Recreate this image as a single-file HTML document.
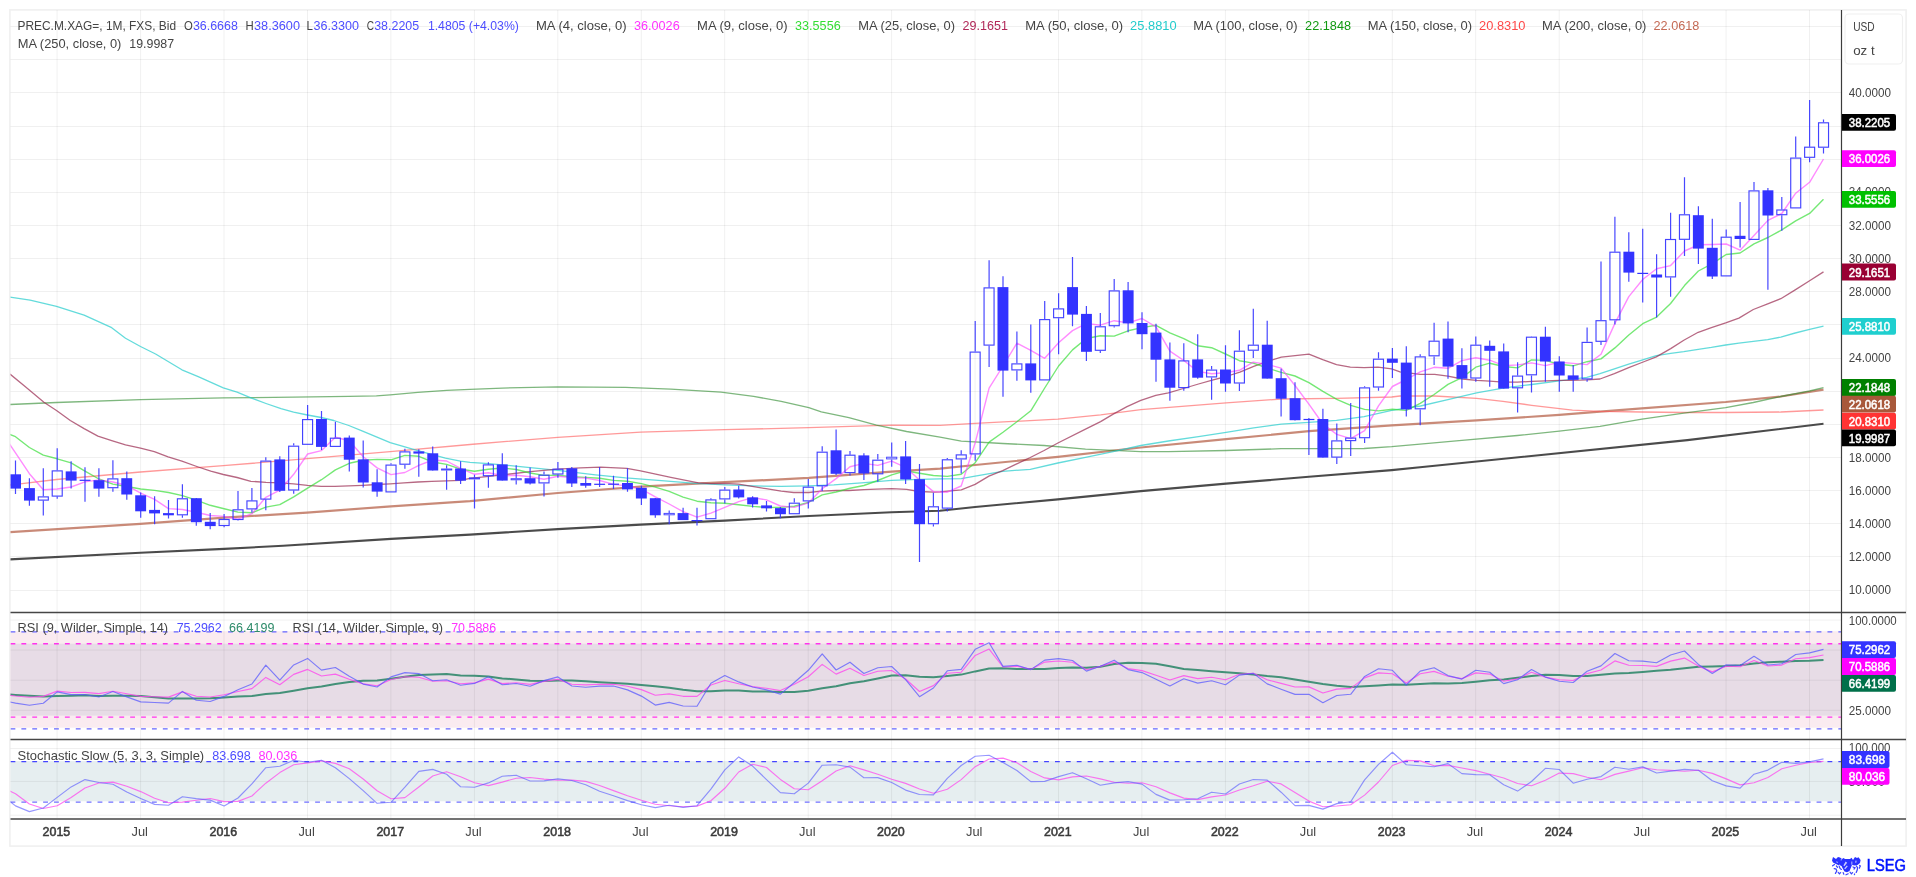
<!DOCTYPE html><html><head><meta charset="utf-8"><title>chart</title><style>html,body{margin:0;padding:0;background:#fff;}body{width:1916px;height:877px;overflow:hidden;}svg{display:block;}text{font-family:"Liberation Sans",sans-serif;}</style></head><body>
<svg width="1916" height="877" viewBox="0 0 1916 877">
<defs><clipPath id="cp"><rect x="10.5" y="10" width="1830.5" height="602"/></clipPath><clipPath id="cr"><rect x="10.5" y="612" width="1830.5" height="128"/></clipPath><clipPath id="cs"><rect x="10.5" y="740" width="1830.5" height="79"/></clipPath></defs>
<rect x="0" y="0" width="1916" height="877" fill="#fff"/>
<rect x="9.9" y="9.9" width="1896.2" height="836.2" fill="none" stroke="#f0f0f0" stroke-width="1.6"/>
<rect x="10.5" y="631.2" width="1830.5" height="96.5" fill="#faebf0"/>
<rect x="10.5" y="643.7" width="1830.5" height="71.9" fill="#e7dce6"/>
<rect x="10.5" y="761.1" width="1830.5" height="40.2" fill="#e6eef0"/>
<path d="M57.1 10V818M140.6 10V818M224.0 10V818M307.5 10V818M390.9 10V818M474.4 10V818M557.8 10V818M641.3 10V818M724.7 10V818M808.2 10V818M891.6 10V818M975.1 10V818M1058.5 10V818M1141.9 10V818M1225.4 10V818M1308.8 10V818M1392.3 10V818M1475.7 10V818M1559.2 10V818M1642.6 10V818M1726.1 10V818M1809.5 10V818M10.5 590.5H1841M10.5 556.5H1841M10.5 523.5H1841M10.5 490.5H1841M10.5 457.5H1841M10.5 424.5H1841M10.5 391.5H1841M10.5 358.5H1841M10.5 324.5H1841M10.5 291.5H1841M10.5 258.5H1841M10.5 225.5H1841M10.5 192.5H1841M10.5 159.5H1841M10.5 126.5H1841M10.5 92.5H1841M10.5 59.5H1841M10.5 26.5H1841M10.5 710.3H1841M10.5 680.2H1841M10.5 650.1H1841M10.5 620.1H1841M10.5 748.5H1841M10.5 781.4H1841M10.5 815.2H1841" stroke="#000" stroke-opacity="0.06" stroke-width="1" fill="none"/>
<g clip-path="url(#cp)">
<polyline points="10.0,559.4 140.4,552.7 224.3,548.9 283.2,545.7 391.0,538.9 470.0,534.6 557.8,529.1 640.6,524.6 724.7,520.6 808.8,516.0 891.6,512.3 940.0,510.7 975.1,507.0 1057.9,499.4 1140.8,491.1 1226.1,483.6 1308.9,476.8 1391.7,470.1 1420.0,467.3 1687.4,440.1 1823.5,423.8" fill="none" stroke="#3c3c3c" stroke-width="2.1" stroke-linejoin="round" stroke-opacity="0.92"/>
<polyline points="10.0,532.1 140.4,523.9 224.3,517.6 307.0,512.6 391.0,506.3 470.0,501.2 557.8,493.0 640.6,486.7 724.7,482.2 808.8,477.9 891.6,471.6 940.0,468.6 975.1,465.0 1057.9,456.8 1140.8,447.5 1226.1,439.2 1308.9,431.2 1391.7,425.4 1476.6,420.4 1559.3,414.9 1600.0,411.6 1641.9,408.4 1725.7,402.0 1780.8,396.5 1823.5,389.6" fill="none" stroke="#c07560" stroke-width="2.2" stroke-linejoin="round" stroke-opacity="0.85"/>
<polyline points="10.0,485.0 20.0,483.8 56.5,479.5 140.5,472.0 223.3,465.7 307.4,458.7 390.2,451.6 470.0,444.5 557.8,437.3 640.6,432.2 724.7,429.7 808.8,427.7 891.6,425.2 940.0,425.4 975.1,423.4 1057.9,419.1 1100.6,414.9 1140.8,409.6 1226.1,402.8 1281.3,399.0 1336.5,398.3 1391.7,397.0 1400.0,396.0 1434.7,396.0 1476.6,398.4 1503.0,401.3 1531.7,405.3 1572.5,410.1 1600.0,411.3 1641.9,412.0 1683.8,412.5 1725.7,412.5 1780.8,412.0 1823.5,410.0" fill="none" stroke="#ff5555" stroke-width="1.3" stroke-linejoin="round" stroke-opacity="0.6"/>
<polyline points="10.0,404.5 56.5,402.5 140.5,399.7 223.3,397.9 293.6,397.2 348.8,396.4 376.4,395.9 390.2,394.9 417.8,392.4 446.7,390.4 470.0,389.3 502.6,388.1 557.8,386.8 625.6,387.3 670.8,389.1 721.0,392.1 753.6,396.3 781.2,401.4 808.8,407.6 821.3,411.9 848.9,417.7 876.5,425.2 906.6,431.5 940.0,437.2 961.3,441.2 1002.7,443.5 1044.1,445.5 1085.5,449.2 1140.8,451.7 1168.4,451.7 1226.1,450.5 1281.3,448.7 1336.5,448.7 1364.1,448.5 1391.7,446.7 1420.0,444.2 1464.7,440.1 1517.4,435.5 1559.3,431.2 1600.0,426.4 1641.9,419.2 1683.8,413.2 1725.7,407.7 1753.3,402.5 1780.8,396.5 1809.6,391.0 1823.5,387.6" fill="none" stroke="#2e8b2e" stroke-width="1.3" stroke-linejoin="round" stroke-opacity="0.62"/>
<polyline points="10.0,297.1 30.1,300.1 56.5,306.3 84.1,315.1 111.7,327.7 125.5,338.2 140.5,346.5 155.6,354.0 181.9,369.8 198.2,376.6 223.3,387.9 237.1,392.2 250.9,397.9 266.0,403.5 281.0,408.7 293.6,412.2 307.4,415.0 321.2,417.5 333.8,420.5 348.8,425.5 362.6,431.1 376.4,436.8 390.2,442.6 404.0,446.6 417.8,450.6 431.6,454.4 445.4,458.2 460.5,461.2 470.0,462.3 488.8,463.6 515.2,466.1 557.8,470.4 595.5,474.9 625.6,477.9 658.2,480.4 695.8,483.4 724.7,484.9 753.6,485.9 781.2,486.4 808.8,485.9 833.9,484.9 861.5,482.9 891.6,480.4 919.2,479.4 940.0,478.8 961.3,478.6 975.1,476.1 1002.7,471.3 1030.3,469.3 1057.9,463.0 1085.5,457.3 1113.2,451.7 1140.8,445.5 1168.4,441.0 1198.5,436.7 1226.1,432.4 1253.7,427.9 1281.3,424.1 1308.9,422.4 1336.5,420.4 1364.1,416.6 1391.7,410.3 1420.4,406.0 1447.9,399.6 1476.6,392.9 1503.0,388.1 1531.7,384.5 1559.3,380.9 1586.8,377.3 1600.0,373.7 1614.4,368.9 1628.7,364.1 1641.9,360.1 1656.3,355.7 1670.7,353.4 1683.8,351.7 1698.2,349.3 1711.4,347.4 1725.7,345.0 1738.9,343.1 1753.3,341.4 1767.7,339.7 1780.8,337.1 1795.2,333.0 1809.6,329.4 1823.5,326.2" fill="none" stroke="#22cccc" stroke-width="1.3" stroke-linejoin="round" stroke-opacity="0.7"/>
<polyline points="10.0,374.1 25.1,386.6 43.9,402.2 56.5,410.5 70.3,420.5 84.1,428.6 97.9,436.1 111.7,440.6 125.5,444.9 140.5,448.1 154.3,451.6 168.1,456.9 181.9,461.2 198.2,467.0 210.8,471.2 223.3,474.5 237.1,477.5 250.9,481.3 266.0,482.3 279.8,482.8 293.6,483.8 307.4,485.3 321.2,486.3 335.0,486.3 348.8,485.8 362.6,485.3 376.4,484.5 390.2,483.8 404.0,482.8 417.8,482.0 431.6,481.3 446.7,480.8 460.5,480.3 470.0,478.4 502.6,474.9 530.2,471.6 557.8,469.1 580.4,467.9 600.5,467.1 626.8,468.4 640.6,470.9 655.7,474.1 670.8,477.4 685.8,480.4 698.4,482.9 710.9,483.7 724.7,483.4 738.5,484.2 753.6,486.7 766.1,488.7 781.2,491.2 793.7,492.5 808.8,492.5 821.3,491.2 836.4,490.5 848.9,490.5 864.0,489.7 876.5,489.2 891.6,488.7 906.6,489.4 919.2,491.5 934.2,492.2 940.0,491.9 961.3,489.9 975.1,484.4 988.9,476.1 1002.7,470.6 1030.3,457.5 1044.1,450.5 1057.9,443.0 1085.5,429.2 1100.6,421.6 1113.2,414.1 1127.0,406.6 1140.8,400.3 1155.8,395.3 1168.4,392.8 1183.4,388.5 1198.5,384.0 1212.3,380.2 1226.1,376.5 1239.9,372.2 1253.7,366.4 1267.5,361.4 1281.3,357.1 1295.1,355.6 1308.9,354.1 1322.7,359.6 1336.5,364.7 1350.3,367.2 1364.1,367.7 1377.9,367.2 1391.7,368.9 1400.0,371.8 1420.4,374.4 1434.7,374.4 1447.9,376.1 1462.3,379.0 1476.6,380.4 1489.8,381.1 1503.0,382.1 1517.4,382.1 1531.7,381.4 1546.1,380.9 1559.3,380.4 1572.5,380.4 1586.8,379.9 1600.0,379.0 1614.4,373.7 1628.7,367.7 1641.9,362.5 1656.3,356.9 1670.7,348.6 1683.8,340.2 1698.2,332.3 1711.4,327.7 1725.7,322.9 1738.9,318.1 1753.3,309.5 1767.7,303.8 1780.8,298.7 1795.2,289.9 1809.6,280.8 1823.5,271.9" fill="none" stroke="#99284f" stroke-width="1.3" stroke-linejoin="round" stroke-opacity="0.7"/>
<polyline points="1.6,431.0 15.5,436.7 29.4,447.5 43.3,455.1 57.2,458.8 71.1,462.9 85.0,471.1 98.9,479.0 112.9,484.1 126.8,486.5 140.7,489.0 154.6,490.4 168.5,492.5 182.4,495.6 196.3,500.2 210.2,505.3 224.1,508.7 238.0,512.1 251.9,512.8 265.8,507.1 279.8,504.6 293.7,496.9 307.6,488.1 321.5,479.7 335.4,469.9 349.3,463.3 363.2,460.3 377.1,459.4 391.0,459.8 404.9,455.4 418.8,456.3 432.7,462.0 446.6,464.4 460.6,469.2 474.5,471.2 488.4,469.2 502.3,468.0 516.2,469.5 530.1,473.0 544.0,475.4 557.9,475.2 571.8,476.8 585.7,477.4 599.6,478.2 613.5,480.4 627.5,481.3 641.4,483.6 655.3,487.1 669.2,491.4 683.1,497.1 697.0,501.2 710.9,502.7 724.8,503.3 738.7,504.8 752.6,506.4 766.5,507.5 780.4,507.4 794.3,506.3 808.3,502.5 822.2,494.9 836.1,492.0 850.0,488.2 863.9,485.5 877.8,480.5 891.7,474.8 905.6,470.9 919.5,473.3 933.4,475.5 947.3,476.4 961.2,474.2 975.2,462.7 989.1,442.1 1003.0,432.2 1016.9,421.8 1030.8,410.8 1044.7,388.0 1058.6,366.0 1072.5,349.9 1086.4,338.5 1100.3,335.7 1114.2,336.1 1128.1,330.8 1142.0,327.6 1156.0,325.3 1169.9,332.9 1183.8,338.7 1197.7,345.7 1211.6,347.7 1225.5,354.0 1239.4,360.7 1253.3,363.1 1267.2,368.0 1281.1,372.4 1295.0,376.0 1308.9,382.6 1322.9,391.4 1336.8,399.3 1350.7,405.3 1364.6,409.4 1378.5,410.9 1392.4,409.2 1406.3,410.4 1420.2,403.3 1434.1,394.5 1448.0,384.4 1461.9,377.6 1475.8,367.2 1489.7,363.2 1503.7,366.5 1517.6,367.9 1531.5,359.9 1545.4,360.4 1559.3,364.3 1573.2,365.8 1587.1,361.7 1601.0,358.9 1614.9,347.9 1628.8,335.0 1642.7,323.7 1656.6,317.1 1670.6,303.5 1684.5,285.6 1698.4,271.0 1712.3,263.7 1726.2,254.5 1740.1,253.0 1754.0,243.9 1767.9,237.5 1781.8,229.9 1795.7,220.9 1809.6,213.4 1823.5,199.3" fill="none" stroke="#33dd33" stroke-width="1.4" stroke-linejoin="round" stroke-opacity="0.68"/>
<polyline points="1.6,432.5 15.5,452.8 29.4,473.7 43.3,489.8 57.2,489.0 71.1,487.0 85.0,481.9 98.9,479.9 112.9,482.0 126.8,485.5 140.7,493.2 154.6,499.4 168.5,508.6 182.4,509.5 196.3,512.3 210.2,515.5 224.1,516.4 238.0,519.1 251.9,513.7 265.8,497.3 279.8,490.2 293.7,474.3 307.6,454.0 321.5,450.6 335.4,437.3 349.3,440.8 363.2,456.7 377.1,467.9 391.0,474.6 404.9,472.5 418.8,465.3 432.7,460.0 446.6,461.0 460.6,468.3 474.5,474.3 488.4,472.8 502.3,475.8 516.2,475.2 530.1,476.7 544.0,479.2 557.9,476.2 571.8,477.6 585.7,478.1 599.6,480.5 613.5,484.4 627.5,485.9 641.4,489.1 655.3,496.9 669.2,504.0 683.1,511.7 697.0,517.2 710.9,513.2 724.8,507.4 738.7,501.7 752.6,497.6 766.5,499.9 780.4,506.0 794.3,507.4 808.3,502.9 822.2,488.8 836.1,478.6 850.0,466.7 863.9,463.4 877.8,465.4 891.7,461.1 905.6,467.3 919.5,480.0 933.4,491.6 947.3,492.2 961.2,486.0 975.2,442.8 989.1,388.1 1003.0,366.0 1016.9,343.2 1030.8,350.4 1044.7,358.3 1058.6,342.8 1072.5,330.6 1086.4,323.4 1100.3,325.2 1114.2,320.7 1128.1,322.9 1142.0,318.5 1156.0,326.9 1169.9,351.2 1183.8,360.5 1197.7,371.4 1211.6,373.8 1225.5,372.8 1239.4,370.3 1253.3,362.1 1267.2,364.4 1281.1,368.1 1295.0,385.5 1308.9,404.2 1322.9,424.0 1336.8,434.4 1350.7,438.7 1364.6,430.7 1378.5,405.9 1392.4,386.5 1406.3,379.5 1420.2,371.8 1434.1,367.3 1448.0,368.3 1461.9,360.6 1475.8,357.7 1489.7,360.2 1503.7,365.7 1517.6,364.9 1531.5,362.9 1545.4,365.6 1559.3,362.3 1573.2,363.4 1587.1,364.6 1601.0,354.3 1614.9,323.4 1628.8,296.6 1642.7,279.5 1656.6,268.8 1670.6,265.6 1684.5,251.0 1698.4,244.8 1712.3,244.5 1726.2,244.0 1740.1,250.2 1754.0,235.6 1767.9,220.4 1781.8,213.5 1795.7,193.2 1809.6,182.3 1823.5,159.0" fill="none" stroke="#ff44ff" stroke-width="1.4" stroke-linejoin="round" stroke-opacity="0.62"/>
<path d="M15.5 460.4V493.9M29.4 478.2V505.7M43.3 468.2V496.3M43.3 500.6V515.4M57.2 448.2V470.3M57.2 496.6V498.7M71.1 461.2V488.6M85.0 467.2V501.7M98.9 468.2V496.8M112.9 460.2V478.4M112.9 488.3V491.8M126.8 471.4V499.8M140.7 492.6V517.7M154.6 496.3V524.2M168.5 500.1V518.6M182.4 484.2V498.2M182.4 515.3V517.7M196.3 497.9V525.7M210.2 512.9V529.3M224.1 513.9V519.0M224.1 526.1V527.3M238.0 491.1V509.2M238.0 520.0V520.5M251.9 488.1V500.4M251.9 509.5V512.4M265.8 457.3V460.5M265.8 499.6V510.3M279.8 456.2V491.9M293.7 443.2V445.6M293.7 490.5V493.7M307.6 404.9V419.0M321.5 411.0V450.1M335.4 421.7V437.6M349.3 435.4V471.6M363.2 440.5V487.6M377.1 469.3V496.7M391.0 463.2V464.5M404.9 448.8V451.4M404.9 464.8V468.8M418.8 449.3V476.8M432.7 446.4V470.5M446.6 465.3V468.5M446.6 470.5V489.7M460.6 461.3V483.9M474.5 474.7V477.4M474.5 479.4V508.6M488.4 462.3V464.4M488.4 476.3V487.8M502.3 453.2V480.6M516.2 465.2V478.2M516.2 480.3V484.6M530.1 467.4V484.6M544.0 471.4V474.6M544.0 483.4V496.6M557.9 462.0V468.7M557.9 474.6V477.8M571.8 467.1V487.0M585.7 476.3V487.8M599.6 467.1V487.0M613.5 475.8V488.9M627.5 468.2V491.8M641.4 485.7V504.9M655.3 497.9V517.7M669.2 510.5V512.9M669.2 515.3V524.2M683.1 507.8V520.1M697.0 507.8V525.4M710.9 498.2V499.4M724.8 487.1V489.5M724.8 499.4V503.4M738.7 485.8V498.6M752.6 496.2V507.5M766.5 501.0V511.5M780.4 507.0V518.2M794.3 498.2V502.6M808.3 479.1V486.6M808.3 501.4V508.6M822.2 446.3V451.6M822.2 486.3V491.1M836.1 429.6V475.1M850.0 451.1V454.7M850.0 473.2V475.6M863.9 453.2V479.9M877.8 454.0V459.6M877.8 474.3V481.8M891.7 442.4V456.7M891.7 459.4V466.8M905.6 441.1V483.9M919.5 464.0V562.1M933.4 492.8V506.2M933.4 524.2V526.6M947.3 457.9V459.2M947.3 508.6V511.4M961.2 450.3V454.4M961.2 459.5V473.4M975.2 321.0V351.5M975.2 454.4V460.8M989.1 260.3V287.4M989.1 345.7V366.9M1003.0 276.2V396.7M1016.9 331.5V363.3M1016.9 370.4V380.7M1030.8 324.6V392.7M1044.7 301.0V319.0M1058.6 293.2V308.3M1058.6 318.2V354.2M1072.5 257.1V326.2M1086.4 305.9V360.9M1100.3 313.0V326.2M1100.3 350.8V352.9M1114.2 279.1V290.3M1114.2 326.2V327.5M1128.1 282.0V332.3M1142.0 312.2V349.3M1156.0 323.8V381.8M1169.9 342.6V400.7M1183.8 343.3V360.4M1183.8 388.2V390.8M1197.7 334.3V378.8M1211.6 366.0V369.5M1211.6 377.4V399.8M1225.5 345.2V391.8M1239.4 330.3V350.6M1239.4 383.5V391.0M1253.3 308.8V344.7M1253.3 350.8V358.0M1267.2 320.8V378.6M1281.1 368.7V416.6M1295.0 382.2V420.4M1308.9 418.0V455.1M1322.9 408.8V457.6M1336.8 423.6V440.3M1336.8 457.6V463.9M1350.7 403.0V437.5M1350.7 441.1V455.9M1364.6 386.2V387.3M1364.6 438.2V443.1M1378.5 352.2V358.6M1378.5 387.5V390.7M1392.4 347.9V377.9M1406.3 346.3V416.6M1420.2 354.3V356.4M1420.2 409.4V425.3M1434.1 322.8V340.7M1434.1 356.4V365.0M1448.0 321.6V378.7M1461.9 348.2V388.6M1475.8 336.4V344.7M1475.8 378.6V381.8M1489.7 340.4V386.7M1503.7 343.4V388.6M1517.6 362.3V375.5M1517.6 388.3V412.6M1531.5 336.4V336.7M1531.5 375.4V392.6M1545.4 326.7V381.8M1559.3 356.2V391.8M1573.2 365.0V391.8M1587.1 327.6V341.8M1587.1 379.4V381.8M1601.0 261.4V320.1M1601.0 341.8V345.1M1614.9 216.8V251.7M1614.9 320.4V324.4M1628.8 232.3V281.7M1642.7 228.8V302.6M1656.6 254.3V317.5M1670.6 212.8V238.9M1670.6 277.4V296.7M1684.5 177.2V214.2M1684.5 239.8V255.9M1698.4 206.2V263.9M1712.3 218.7V279.1M1726.2 229.6V236.7M1740.1 201.9V247.4M1754.0 182.0V190.3M1767.9 188.0V289.8M1781.8 197.1V209.4M1781.8 215.2V230.7M1795.7 136.6V157.5M1809.6 99.9V146.7M1809.6 157.9V162.3M1823.5 119.5V122.3M1823.5 147.8V153.4" stroke="#3333ff" stroke-width="1.2" stroke-opacity="0.9" fill="none"/>
<g fill="#3333ff"><rect x="10.1" y="474.3" width="10.9" height="14.3"/><rect x="24.0" y="488.1" width="10.9" height="12.5"/><rect x="65.7" y="471.4" width="10.9" height="9.2"/><rect x="79.6" y="479.7" width="10.9" height="1.2"/><rect x="93.5" y="480.2" width="10.9" height="8.4"/><rect x="121.3" y="478.2" width="10.9" height="16.3"/><rect x="135.2" y="495.3" width="10.9" height="16.0"/><rect x="149.1" y="509.9" width="10.9" height="3.5"/><rect x="163.0" y="513.1" width="10.9" height="2.2"/><rect x="190.9" y="498.2" width="10.9" height="24.0"/><rect x="204.8" y="521.8" width="10.9" height="4.3"/><rect x="274.3" y="459.4" width="10.9" height="31.4"/><rect x="316.0" y="419.0" width="10.9" height="27.9"/><rect x="343.8" y="437.6" width="10.9" height="22.1"/><rect x="357.8" y="459.4" width="10.9" height="23.1"/><rect x="371.7" y="482.3" width="10.9" height="9.3"/><rect x="413.4" y="451.4" width="10.9" height="2.2"/><rect x="427.3" y="453.3" width="10.9" height="17.2"/><rect x="455.1" y="468.5" width="10.9" height="12.2"/><rect x="496.8" y="464.4" width="10.9" height="16.2"/><rect x="524.6" y="478.2" width="10.9" height="5.3"/><rect x="566.4" y="468.3" width="10.9" height="15.2"/><rect x="580.3" y="483.0" width="10.9" height="2.7"/><rect x="594.2" y="483.7" width="10.9" height="1.2"/><rect x="608.1" y="483.6" width="10.9" height="1.2"/><rect x="622.0" y="483.0" width="10.9" height="6.4"/><rect x="635.9" y="487.8" width="10.9" height="10.7"/><rect x="649.8" y="498.2" width="10.9" height="17.1"/><rect x="677.6" y="513.1" width="10.9" height="7.0"/><rect x="691.5" y="520.0" width="10.9" height="1.2"/><rect x="733.3" y="489.5" width="10.9" height="7.9"/><rect x="747.2" y="497.4" width="10.9" height="6.9"/><rect x="761.1" y="505.4" width="10.9" height="2.9"/><rect x="775.0" y="508.1" width="10.9" height="6.1"/><rect x="830.6" y="450.3" width="10.9" height="23.5"/><rect x="858.4" y="455.4" width="10.9" height="18.1"/><rect x="900.2" y="456.4" width="10.9" height="23.0"/><rect x="914.1" y="479.2" width="10.9" height="45.0"/><rect x="997.5" y="287.1" width="10.9" height="83.5"/><rect x="1025.3" y="363.4" width="10.9" height="17.0"/><rect x="1067.1" y="287.1" width="10.9" height="27.5"/><rect x="1081.0" y="313.9" width="10.9" height="37.9"/><rect x="1122.7" y="290.3" width="10.9" height="33.1"/><rect x="1136.6" y="323.0" width="10.9" height="11.2"/><rect x="1150.5" y="332.6" width="10.9" height="27.1"/><rect x="1164.4" y="359.4" width="10.9" height="28.3"/><rect x="1192.2" y="359.4" width="10.9" height="18.3"/><rect x="1220.0" y="369.5" width="10.9" height="14.0"/><rect x="1261.8" y="344.7" width="10.9" height="33.9"/><rect x="1275.7" y="378.2" width="10.9" height="20.5"/><rect x="1289.6" y="398.2" width="10.9" height="22.0"/><rect x="1303.5" y="418.9" width="10.9" height="1.2"/><rect x="1317.4" y="419.0" width="10.9" height="38.6"/><rect x="1386.9" y="358.6" width="10.9" height="4.2"/><rect x="1400.8" y="362.6" width="10.9" height="46.8"/><rect x="1442.6" y="338.6" width="10.9" height="28.0"/><rect x="1456.5" y="365.1" width="10.9" height="13.6"/><rect x="1484.3" y="345.8" width="10.9" height="5.0"/><rect x="1498.2" y="351.4" width="10.9" height="37.2"/><rect x="1539.9" y="336.7" width="10.9" height="24.8"/><rect x="1553.8" y="361.5" width="10.9" height="14.0"/><rect x="1567.7" y="375.4" width="10.9" height="4.4"/><rect x="1623.4" y="251.7" width="10.9" height="20.9"/><rect x="1637.3" y="272.8" width="10.9" height="1.2"/><rect x="1651.2" y="274.5" width="10.9" height="3.0"/><rect x="1692.9" y="215.2" width="10.9" height="33.4"/><rect x="1706.8" y="247.8" width="10.9" height="28.7"/><rect x="1734.6" y="235.8" width="10.9" height="3.2"/><rect x="1762.5" y="190.3" width="10.9" height="25.2"/></g>
<g fill="none" stroke="#3333ff" stroke-width="1.15" stroke-opacity="0.92"><rect x="38.32" y="496.9" width="10" height="3.2"/><rect x="52.22" y="470.9" width="10" height="25.2"/><rect x="107.86" y="478.9" width="10" height="8.8"/><rect x="177.40" y="498.8" width="10" height="16.0"/><rect x="219.12" y="519.5" width="10" height="6.0"/><rect x="233.03" y="509.8" width="10" height="9.7"/><rect x="246.94" y="500.9" width="10" height="8.0"/><rect x="260.84" y="461.1" width="10" height="38.0"/><rect x="288.66" y="446.2" width="10" height="43.8"/><rect x="302.57" y="419.6" width="10" height="24.7"/><rect x="330.38" y="438.2" width="10" height="8.2"/><rect x="386.02" y="465.1" width="10" height="26.8"/><rect x="399.92" y="451.9" width="10" height="12.3"/><rect x="441.55" y="469.0" width="10.2" height="1.0" stroke-width="0.95"/><rect x="469.36" y="477.9" width="10.2" height="1.0" stroke-width="0.95"/><rect x="483.37" y="464.9" width="10" height="10.8"/><rect x="511.09" y="478.7" width="10.2" height="1.1" stroke-width="0.95"/><rect x="539.00" y="475.2" width="10" height="7.7"/><rect x="552.91" y="469.2" width="10" height="4.8"/><rect x="664.08" y="513.4" width="10.2" height="1.4" stroke-width="0.95"/><rect x="705.90" y="499.9" width="10" height="18.8"/><rect x="719.81" y="490.1" width="10" height="8.8"/><rect x="789.35" y="503.2" width="10" height="10.5"/><rect x="803.26" y="487.2" width="10" height="13.7"/><rect x="817.16" y="452.2" width="10" height="33.6"/><rect x="844.98" y="455.2" width="10" height="17.4"/><rect x="872.80" y="460.2" width="10" height="13.6"/><rect x="886.60" y="457.2" width="10.2" height="1.7" stroke-width="0.95"/><rect x="928.43" y="506.8" width="10" height="16.9"/><rect x="942.34" y="459.8" width="10" height="48.3"/><rect x="956.24" y="454.9" width="10" height="4.0"/><rect x="970.15" y="352.1" width="10" height="101.8"/><rect x="984.06" y="287.9" width="10" height="57.2"/><rect x="1011.88" y="363.9" width="10" height="6.0"/><rect x="1039.69" y="319.6" width="10" height="60.3"/><rect x="1053.60" y="308.9" width="10" height="8.8"/><rect x="1095.32" y="326.8" width="10" height="23.5"/><rect x="1109.23" y="290.9" width="10" height="34.8"/><rect x="1178.77" y="360.9" width="10" height="26.7"/><rect x="1206.59" y="370.1" width="10" height="6.8"/><rect x="1234.40" y="351.2" width="10" height="31.8"/><rect x="1248.31" y="345.2" width="10" height="5.0"/><rect x="1331.76" y="440.9" width="10" height="16.2"/><rect x="1345.67" y="438.1" width="10" height="2.5"/><rect x="1359.58" y="387.9" width="10" height="49.8"/><rect x="1373.48" y="359.2" width="10" height="27.8"/><rect x="1415.21" y="356.9" width="10" height="51.9"/><rect x="1429.12" y="341.2" width="10" height="14.6"/><rect x="1470.84" y="345.2" width="10" height="32.8"/><rect x="1512.56" y="376.1" width="10" height="11.7"/><rect x="1526.47" y="337.2" width="10" height="37.6"/><rect x="1582.10" y="342.4" width="10" height="36.5"/><rect x="1596.01" y="320.7" width="10" height="20.6"/><rect x="1609.92" y="252.2" width="10" height="67.6"/><rect x="1665.55" y="239.5" width="10" height="37.4"/><rect x="1679.46" y="214.8" width="10" height="24.5"/><rect x="1721.18" y="237.2" width="10" height="38.7"/><rect x="1749.00" y="190.9" width="10" height="48.5"/><rect x="1776.82" y="210.0" width="10" height="4.7"/><rect x="1790.72" y="158.1" width="10" height="49.8"/><rect x="1804.63" y="147.2" width="10" height="10.1"/><rect x="1818.54" y="122.8" width="10" height="24.4"/></g>
</g>
<g clip-path="url(#cr)">
<path d="M10.5 631.8H1841" stroke="#6666ff" stroke-width="1.35" stroke-dasharray="4.84 6.04" fill="none"/>
<path d="M10.5 643.7H1841" stroke="#ff33ee" stroke-width="1.35" stroke-dasharray="4.84 6.04" fill="none"/>
<path d="M10.5 717.1H1841" stroke="#ff33ee" stroke-width="1.35" stroke-dasharray="4.84 6.04" fill="none"/>
<path d="M10.5 728.8H1841" stroke="#6666ff" stroke-width="1.35" stroke-dasharray="4.84 6.04" fill="none"/>
<polyline points="1.6,693.9 15.5,694.9 29.4,695.7 43.3,696.4 57.2,696.0 71.1,695.7 85.0,695.3 98.9,695.9 112.9,695.7 126.8,695.7 140.7,696.0 154.6,697.3 168.5,698.4 182.4,698.4 196.3,698.4 210.2,698.3 224.1,697.6 238.0,696.6 251.9,696.1 265.8,694.0 279.8,693.0 293.7,690.7 307.6,688.3 321.5,686.4 335.4,683.9 349.3,682.1 363.2,680.7 377.1,680.4 391.0,678.7 404.9,676.7 418.8,675.0 432.7,674.4 446.6,674.1 460.6,675.5 474.5,675.8 488.4,676.6 502.3,678.5 516.2,679.4 530.1,680.8 544.0,681.1 557.9,680.6 571.8,680.5 585.7,681.2 599.6,682.2 613.5,683.1 627.5,683.8 641.4,684.9 655.3,686.3 669.2,687.7 683.1,689.8 697.0,691.3 710.9,691.3 724.8,690.6 738.7,690.6 752.6,691.4 766.5,691.6 780.4,692.1 794.3,691.9 808.3,690.7 822.2,688.2 836.1,686.3 850.0,683.2 863.9,681.2 877.8,678.4 891.7,675.6 905.6,675.3 919.5,676.8 933.4,677.3 947.3,676.1 961.2,674.6 975.2,671.4 989.1,668.6 1003.0,668.3 1016.9,669.1 1030.8,669.1 1044.7,669.0 1058.6,667.9 1072.5,667.4 1086.4,667.7 1100.3,666.8 1114.2,664.1 1128.1,662.8 1142.0,663.0 1156.0,663.7 1169.9,666.3 1183.8,668.9 1197.7,670.1 1211.6,671.2 1225.5,672.2 1239.4,673.3 1253.3,674.4 1267.2,676.1 1281.1,677.3 1295.0,679.4 1308.9,681.8 1322.9,684.1 1336.8,685.8 1350.7,686.9 1364.6,686.2 1378.5,685.5 1392.4,684.5 1406.3,684.8 1420.2,683.9 1434.1,683.3 1448.0,683.5 1461.9,683.1 1475.8,681.8 1489.7,680.2 1503.7,679.5 1517.6,677.8 1531.5,676.0 1545.4,674.7 1559.3,675.1 1573.2,676.1 1587.1,676.1 1601.0,674.8 1614.9,673.5 1628.8,673.0 1642.7,672.0 1656.6,670.8 1670.6,669.7 1684.5,668.2 1698.4,666.8 1712.3,666.4 1726.2,666.1 1740.1,665.2 1754.0,663.4 1767.9,662.2 1781.8,661.7 1795.7,660.9 1809.6,660.8 1823.5,660.0" fill="none" stroke="#3a8c72" stroke-width="2.0" stroke-linejoin="round" stroke-opacity="0.95"/>
<polyline points="1.6,694.3 15.5,696.0 29.4,697.3 43.3,696.4 57.2,691.1 71.1,692.5 85.0,692.4 98.9,693.6 112.9,691.2 126.8,693.8 140.7,696.4 154.6,696.8 168.5,697.1 182.4,691.9 196.3,696.3 210.2,697.0 224.1,694.7 238.0,691.5 251.9,688.6 265.8,677.4 279.8,684.7 293.7,674.4 307.6,669.4 321.5,676.0 335.4,674.1 349.3,679.2 363.2,683.9 377.1,685.8 391.0,679.5 404.9,676.7 418.8,677.2 432.7,681.3 446.6,680.8 460.6,683.8 474.5,682.9 488.4,679.1 502.3,683.6 516.2,682.8 530.1,684.4 544.0,681.4 557.9,679.4 571.8,684.2 585.7,684.9 599.6,684.3 613.5,684.3 627.5,686.3 641.4,689.6 655.3,695.2 669.2,693.9 683.1,696.3 697.0,696.4 710.9,685.0 724.8,680.5 738.7,683.8 752.6,686.6 766.5,688.3 780.4,690.6 794.3,684.3 808.3,676.7 822.2,664.4 836.1,674.1 850.0,668.3 863.9,675.5 877.8,671.3 891.7,670.5 905.6,679.0 919.5,691.5 933.4,685.6 947.3,673.3 961.2,672.2 975.2,655.4 989.1,649.1 1003.0,667.0 1016.9,666.1 1030.8,669.4 1044.7,662.1 1058.6,661.0 1072.5,662.3 1086.4,669.7 1100.3,666.4 1114.2,662.1 1128.1,668.6 1142.0,670.6 1156.0,675.2 1169.9,680.0 1183.8,675.6 1197.7,678.6 1211.6,677.3 1225.5,679.8 1239.4,674.2 1253.3,673.2 1267.2,679.8 1281.1,683.4 1295.0,687.0 1308.9,686.9 1322.9,693.0 1336.8,689.1 1350.7,688.4 1364.6,677.9 1378.5,672.9 1392.4,673.8 1406.3,682.9 1420.2,673.8 1434.1,671.4 1448.0,676.3 1461.9,678.6 1475.8,672.9 1489.7,674.1 1503.7,681.3 1517.6,678.9 1531.5,672.3 1545.4,677.1 1559.3,679.7 1573.2,680.5 1587.1,673.6 1601.0,670.0 1614.9,660.9 1628.8,665.3 1642.7,665.5 1656.6,666.4 1670.6,661.1 1684.5,658.1 1698.4,666.1 1712.3,671.9 1726.2,666.3 1740.1,666.8 1754.0,660.5 1767.9,666.0 1781.8,665.1 1795.7,658.8 1809.6,657.6 1823.5,655.0" fill="none" stroke="#ff44ee" stroke-width="1.15" stroke-linejoin="round" stroke-opacity="0.78"/>
<polyline points="1.6,700.3 15.5,703.1 29.4,705.3 43.3,703.3 57.2,691.9 71.1,694.6 85.0,694.5 98.9,697.0 112.9,691.5 126.8,696.9 140.7,701.9 154.6,702.5 168.5,703.1 182.4,691.4 196.3,700.2 210.2,701.5 224.1,696.4 238.0,689.7 251.9,684.0 265.8,665.2 279.8,680.1 293.7,664.9 307.6,658.4 321.5,670.1 335.4,667.5 349.3,676.3 363.2,684.1 377.1,687.0 391.0,676.9 404.9,672.6 418.8,673.6 432.7,680.7 446.6,679.8 460.6,685.2 474.5,683.4 488.4,676.8 502.3,684.8 516.2,683.5 530.1,686.2 544.0,680.6 557.9,676.9 571.8,686.0 585.7,687.3 599.6,686.1 613.5,686.0 627.5,689.9 641.4,696.1 655.3,705.1 669.2,702.4 683.1,706.0 697.0,706.3 710.9,683.3 724.8,675.5 738.7,681.9 752.6,687.0 766.5,689.9 780.4,694.1 794.3,682.5 808.3,670.3 822.2,653.9 836.1,670.0 850.0,662.2 863.9,673.5 877.8,667.7 891.7,666.5 905.6,679.6 919.5,696.7 933.4,688.0 947.3,670.8 961.2,669.4 975.2,649.3 989.1,642.7 1003.0,666.4 1016.9,665.3 1030.8,669.6 1044.7,660.1 1058.6,658.6 1072.5,660.5 1086.4,671.1 1100.3,666.3 1114.2,660.2 1128.1,669.6 1142.0,672.6 1156.0,679.3 1169.9,685.9 1183.8,678.8 1197.7,683.1 1211.6,680.8 1225.5,684.7 1239.4,675.1 1253.3,673.4 1267.2,683.9 1281.1,689.2 1295.0,694.4 1308.9,694.2 1322.9,702.7 1336.8,695.5 1350.7,694.3 1364.6,676.4 1378.5,668.8 1392.4,670.3 1406.3,685.0 1420.2,671.1 1434.1,667.7 1448.0,675.6 1461.9,679.1 1475.8,670.3 1489.7,672.3 1503.7,683.6 1517.6,679.7 1531.5,669.5 1545.4,677.1 1559.3,681.2 1573.2,682.5 1587.1,671.3 1601.0,665.9 1614.9,653.5 1628.8,660.8 1642.7,661.1 1656.6,662.7 1670.6,655.0 1684.5,651.0 1698.4,664.4 1712.3,673.5 1726.2,664.7 1740.1,665.5 1754.0,656.3 1767.9,665.0 1781.8,663.8 1795.7,654.5 1809.6,652.9 1823.5,649.4" fill="none" stroke="#5555ff" stroke-width="1.15" stroke-linejoin="round" stroke-opacity="0.72"/>
</g>
<g clip-path="url(#cs)">
<path d="M10.5 761.6H1841" stroke="#4444ff" stroke-width="1.35" stroke-dasharray="4.84 6.04" fill="none"/>
<path d="M10.5 802.1H1841" stroke="#7070ff" stroke-width="1.35" stroke-dasharray="4.84 6.04" fill="none"/>
<polyline points="1.6,787.0 15.5,793.7 29.4,804.0 43.3,808.5 57.2,805.7 71.1,797.5 85.0,788.0 98.9,783.0 112.9,782.1 126.8,786.3 140.7,791.6 154.6,798.3 168.5,802.7 182.4,802.1 196.3,800.2 210.2,798.5 224.1,801.6 238.0,801.4 251.9,796.0 265.8,783.2 279.8,772.6 293.7,764.7 307.6,762.9 321.5,760.9 335.4,763.4 349.3,768.8 363.2,779.0 377.1,790.8 391.0,798.7 404.9,797.6 418.8,787.0 432.7,776.0 446.6,771.7 460.6,776.8 474.5,782.7 488.4,785.6 502.3,782.1 516.2,778.2 530.1,777.5 544.0,779.1 557.9,780.3 571.8,780.1 585.7,781.4 599.6,785.5 613.5,790.6 627.5,795.8 641.4,800.3 655.3,804.3 669.2,805.8 683.1,806.7 697.0,806.1 710.9,800.8 724.8,788.3 738.7,772.0 752.6,764.3 766.5,767.5 780.4,779.4 794.3,788.7 808.3,789.8 822.2,780.7 836.1,771.0 850.0,765.7 863.9,769.9 877.8,774.2 891.7,779.3 905.6,783.4 919.5,789.0 933.4,793.2 947.3,789.3 961.2,779.6 975.2,766.7 989.1,759.0 1003.0,758.1 1016.9,762.8 1030.8,771.6 1044.7,777.9 1058.6,779.9 1072.5,776.9 1086.4,776.0 1100.3,778.9 1114.2,782.3 1128.1,783.2 1142.0,782.8 1156.0,786.7 1169.9,792.9 1183.8,798.1 1197.7,799.6 1211.6,796.9 1225.5,795.0 1239.4,790.0 1253.3,785.8 1267.2,781.2 1281.1,783.9 1295.0,792.6 1308.9,801.1 1322.9,806.7 1336.8,806.0 1350.7,804.8 1364.6,795.1 1378.5,782.0 1392.4,765.5 1406.3,760.4 1420.2,760.9 1434.1,765.7 1448.0,765.4 1461.9,768.0 1475.8,770.6 1489.7,774.3 1503.7,778.0 1517.6,783.5 1531.5,785.8 1545.4,780.3 1559.3,773.1 1573.2,773.6 1587.1,777.3 1601.0,779.7 1614.9,774.4 1628.8,771.1 1642.7,767.8 1656.6,769.7 1670.6,770.4 1684.5,771.2 1698.4,770.2 1712.3,773.4 1726.2,778.9 1740.1,784.9 1754.0,782.7 1767.9,777.5 1781.8,768.8 1795.7,765.2 1809.6,762.5 1823.5,761.4" fill="none" stroke="#ff44ee" stroke-width="1.15" stroke-linejoin="round" stroke-opacity="0.72"/>
<polyline points="1.6,794.6 15.5,805.9 29.4,811.6 43.3,808.0 57.2,797.4 71.1,786.9 85.0,779.6 98.9,782.5 112.9,784.3 126.8,792.1 140.7,798.5 154.6,804.4 168.5,805.2 182.4,796.7 196.3,798.6 210.2,800.1 224.1,806.0 238.0,798.0 251.9,783.9 265.8,767.7 279.8,766.2 293.7,760.3 307.6,762.2 321.5,760.2 335.4,767.7 349.3,778.6 363.2,790.6 377.1,803.3 391.0,802.3 404.9,787.2 418.8,771.4 432.7,769.4 446.6,774.3 460.6,786.7 474.5,787.2 488.4,782.9 502.3,776.3 516.2,775.2 530.1,781.0 544.0,780.9 557.9,778.9 571.8,780.5 585.7,784.8 599.6,791.2 613.5,795.7 627.5,800.6 641.4,804.7 655.3,807.6 669.2,805.2 683.1,807.4 697.0,805.7 710.9,789.2 724.8,769.9 738.7,756.9 752.6,766.1 766.5,779.6 780.4,792.6 794.3,793.8 808.3,783.1 822.2,765.2 836.1,764.8 850.0,767.1 863.9,777.8 877.8,777.6 891.7,782.5 905.6,790.1 919.5,794.5 933.4,794.9 947.3,778.3 961.2,765.5 975.2,756.3 989.1,755.3 1003.0,762.6 1016.9,770.5 1030.8,781.6 1044.7,781.4 1058.6,776.6 1072.5,772.7 1086.4,778.7 1100.3,785.2 1114.2,782.9 1128.1,781.6 1142.0,784.1 1156.0,794.4 1169.9,800.1 1183.8,799.8 1197.7,798.8 1211.6,792.2 1225.5,794.0 1239.4,784.0 1253.3,779.5 1267.2,780.1 1281.1,792.2 1295.0,805.6 1308.9,805.4 1322.9,809.1 1336.8,803.6 1350.7,801.8 1364.6,779.9 1378.5,764.4 1392.4,752.2 1406.3,764.7 1420.2,765.7 1434.1,766.8 1448.0,763.6 1461.9,773.6 1475.8,774.6 1489.7,774.7 1503.7,784.7 1517.6,791.1 1531.5,781.5 1545.4,768.3 1559.3,769.5 1573.2,783.2 1587.1,779.3 1601.0,776.6 1614.9,767.3 1628.8,769.3 1642.7,766.9 1656.6,773.0 1670.6,771.1 1684.5,769.4 1698.4,770.2 1712.3,780.7 1726.2,785.9 1740.1,788.1 1754.0,774.2 1767.9,770.1 1781.8,762.2 1795.7,763.4 1809.6,761.9 1823.5,758.9" fill="none" stroke="#5555ff" stroke-width="1.15" stroke-linejoin="round" stroke-opacity="0.62"/>
</g>
<path d="M10.5 612.5H1906M10.5 739.5H1906M10.5 819H1906" stroke="#464646" stroke-width="1.3" fill="none"/>
<path d="M1841.5 10V846" stroke="#3c3c3c" stroke-width="1.2" fill="none"/>
<g style="will-change:transform">
<text x="1848.8" y="594.1" font-size="12.8" fill="#444444" font-weight="normal" text-anchor="start" textLength="42.2" lengthAdjust="spacingAndGlyphs" xml:space="preserve">10.0000</text>
<text x="1848.8" y="561.0" font-size="12.8" fill="#444444" font-weight="normal" text-anchor="start" textLength="42.2" lengthAdjust="spacingAndGlyphs" xml:space="preserve">12.0000</text>
<text x="1848.8" y="527.8" font-size="12.8" fill="#444444" font-weight="normal" text-anchor="start" textLength="42.2" lengthAdjust="spacingAndGlyphs" xml:space="preserve">14.0000</text>
<text x="1848.8" y="494.7" font-size="12.8" fill="#444444" font-weight="normal" text-anchor="start" textLength="42.2" lengthAdjust="spacingAndGlyphs" xml:space="preserve">16.0000</text>
<text x="1848.8" y="461.5" font-size="12.8" fill="#444444" font-weight="normal" text-anchor="start" textLength="42.2" lengthAdjust="spacingAndGlyphs" xml:space="preserve">18.0000</text>
<text x="1848.8" y="428.4" font-size="12.8" fill="#444444" font-weight="normal" text-anchor="start" textLength="42.2" lengthAdjust="spacingAndGlyphs" xml:space="preserve">20.0000</text>
<text x="1848.8" y="395.3" font-size="12.8" fill="#444444" font-weight="normal" text-anchor="start" textLength="42.2" lengthAdjust="spacingAndGlyphs" xml:space="preserve">22.0000</text>
<text x="1848.8" y="362.1" font-size="12.8" fill="#444444" font-weight="normal" text-anchor="start" textLength="42.2" lengthAdjust="spacingAndGlyphs" xml:space="preserve">24.0000</text>
<text x="1848.8" y="329.0" font-size="12.8" fill="#444444" font-weight="normal" text-anchor="start" textLength="42.2" lengthAdjust="spacingAndGlyphs" xml:space="preserve">26.0000</text>
<text x="1848.8" y="295.8" font-size="12.8" fill="#444444" font-weight="normal" text-anchor="start" textLength="42.2" lengthAdjust="spacingAndGlyphs" xml:space="preserve">28.0000</text>
<text x="1848.8" y="262.7" font-size="12.8" fill="#444444" font-weight="normal" text-anchor="start" textLength="42.2" lengthAdjust="spacingAndGlyphs" xml:space="preserve">30.0000</text>
<text x="1848.8" y="229.6" font-size="12.8" fill="#444444" font-weight="normal" text-anchor="start" textLength="42.2" lengthAdjust="spacingAndGlyphs" xml:space="preserve">32.0000</text>
<text x="1848.8" y="196.4" font-size="12.8" fill="#444444" font-weight="normal" text-anchor="start" textLength="42.2" lengthAdjust="spacingAndGlyphs" xml:space="preserve">34.0000</text>
<text x="1848.8" y="163.3" font-size="12.8" fill="#444444" font-weight="normal" text-anchor="start" textLength="42.2" lengthAdjust="spacingAndGlyphs" xml:space="preserve">36.0000</text>
<text x="1848.8" y="130.1" font-size="12.8" fill="#444444" font-weight="normal" text-anchor="start" textLength="42.2" lengthAdjust="spacingAndGlyphs" xml:space="preserve">38.0000</text>
<text x="1848.8" y="97.0" font-size="12.8" fill="#444444" font-weight="normal" text-anchor="start" textLength="42.2" lengthAdjust="spacingAndGlyphs" xml:space="preserve">40.0000</text>
<text x="1848.8" y="625.1" font-size="12.8" fill="#444444" font-weight="normal" text-anchor="start" textLength="47.9" lengthAdjust="spacingAndGlyphs" xml:space="preserve">100.0000</text>
<text x="1848.8" y="714.6" font-size="12.8" fill="#444444" font-weight="normal" text-anchor="start" textLength="42.2" lengthAdjust="spacingAndGlyphs" xml:space="preserve">25.0000</text>
<text x="1848.8" y="751.8" font-size="12.8" fill="#444444" font-weight="normal" text-anchor="start" textLength="41.7" lengthAdjust="spacingAndGlyphs" xml:space="preserve">100.000</text>
<text x="1848.8" y="785.8" font-size="12.8" fill="#444444" font-weight="normal" text-anchor="start" textLength="35.9" lengthAdjust="spacingAndGlyphs" xml:space="preserve">50.000</text>
<path d="M1842.0 113.9H1894.0a2 2 0 0 1 2 2V128.7a2 2 0 0 1 -2 2H1842.0Z" fill="#000"/><text x="1848.8" y="126.9" font-size="12.8" fill="#fff" font-weight="normal" text-anchor="start" stroke="#fff" stroke-width="0.55" textLength="41.4" lengthAdjust="spacingAndGlyphs" xml:space="preserve">38.2205</text>
<path d="M1842.0 150.3H1894.0a2 2 0 0 1 2 2V165.1a2 2 0 0 1 -2 2H1842.0Z" fill="#ff00ff"/><text x="1848.8" y="163.3" font-size="12.8" fill="#fff" font-weight="normal" text-anchor="start" stroke="#fff" stroke-width="0.55" textLength="41.4" lengthAdjust="spacingAndGlyphs" xml:space="preserve">36.0026</text>
<path d="M1842.0 191.0H1894.0a2 2 0 0 1 2 2V205.8a2 2 0 0 1 -2 2H1842.0Z" fill="#00c000"/><text x="1848.8" y="204.0" font-size="12.8" fill="#fff" font-weight="normal" text-anchor="start" stroke="#fff" stroke-width="0.55" textLength="41.4" lengthAdjust="spacingAndGlyphs" xml:space="preserve">33.5556</text>
<path d="M1842.0 263.6H1894.0a2 2 0 0 1 2 2V278.4a2 2 0 0 1 -2 2H1842.0Z" fill="#990033"/><text x="1848.8" y="276.6" font-size="12.8" fill="#fff" font-weight="normal" text-anchor="start" stroke="#fff" stroke-width="0.55" textLength="41.4" lengthAdjust="spacingAndGlyphs" xml:space="preserve">29.1651</text>
<path d="M1842.0 318.0H1894.0a2 2 0 0 1 2 2V332.8a2 2 0 0 1 -2 2H1842.0Z" fill="#1fcfcf"/><text x="1848.8" y="331.0" font-size="12.8" fill="#fff" font-weight="normal" text-anchor="start" stroke="#fff" stroke-width="0.55" textLength="41.4" lengthAdjust="spacingAndGlyphs" xml:space="preserve">25.8810</text>
<path d="M1842.0 379.1H1894.0a2 2 0 0 1 2 2V393.9a2 2 0 0 1 -2 2H1842.0Z" fill="#008000"/><text x="1848.8" y="392.1" font-size="12.8" fill="#fff" font-weight="normal" text-anchor="start" stroke="#fff" stroke-width="0.55" textLength="41.4" lengthAdjust="spacingAndGlyphs" xml:space="preserve">22.1848</text>
<path d="M1842.0 395.8H1894.0a2 2 0 0 1 2 2V410.6a2 2 0 0 1 -2 2H1842.0Z" fill="#a8583a"/><text x="1848.8" y="408.8" font-size="12.8" fill="#fff" font-weight="normal" text-anchor="start" stroke="#fff" stroke-width="0.55" textLength="41.4" lengthAdjust="spacingAndGlyphs" xml:space="preserve">22.0618</text>
<path d="M1842.0 412.7H1894.0a2 2 0 0 1 2 2V427.5a2 2 0 0 1 -2 2H1842.0Z" fill="#ff3333"/><text x="1848.8" y="425.7" font-size="12.8" fill="#fff" font-weight="normal" text-anchor="start" stroke="#fff" stroke-width="0.55" textLength="41.4" lengthAdjust="spacingAndGlyphs" xml:space="preserve">20.8310</text>
<path d="M1842.0 429.5H1894.0a2 2 0 0 1 2 2V444.3a2 2 0 0 1 -2 2H1842.0Z" fill="#000"/><text x="1848.8" y="442.5" font-size="12.8" fill="#fff" font-weight="normal" text-anchor="start" stroke="#fff" stroke-width="0.55" textLength="41.4" lengthAdjust="spacingAndGlyphs" xml:space="preserve">19.9987</text>
<path d="M1842.0 641.2H1894.0a2 2 0 0 1 2 2V656.0a2 2 0 0 1 -2 2H1842.0Z" fill="#3333ff"/><text x="1848.8" y="654.2" font-size="12.8" fill="#fff" font-weight="normal" text-anchor="start" stroke="#fff" stroke-width="0.55" textLength="41.4" lengthAdjust="spacingAndGlyphs" xml:space="preserve">75.2962</text>
<path d="M1842.0 658.1H1894.0a2 2 0 0 1 2 2V672.9a2 2 0 0 1 -2 2H1842.0Z" fill="#ff00ff"/><text x="1848.8" y="671.1" font-size="12.8" fill="#fff" font-weight="normal" text-anchor="start" stroke="#fff" stroke-width="0.55" textLength="41.4" lengthAdjust="spacingAndGlyphs" xml:space="preserve">70.5886</text>
<path d="M1842.0 675.0H1894.0a2 2 0 0 1 2 2V689.8a2 2 0 0 1 -2 2H1842.0Z" fill="#00704a"/><text x="1848.8" y="688.0" font-size="12.8" fill="#fff" font-weight="normal" text-anchor="start" stroke="#fff" stroke-width="0.55" textLength="41.4" lengthAdjust="spacingAndGlyphs" xml:space="preserve">66.4199</text>
<path d="M1842.0 751.1H1887.5a2 2 0 0 1 2 2V765.9a2 2 0 0 1 -2 2H1842.0Z" fill="#3333ff"/><text x="1848.8" y="764.1" font-size="12.8" fill="#fff" font-weight="normal" text-anchor="start" stroke="#fff" stroke-width="0.55" textLength="36.3" lengthAdjust="spacingAndGlyphs" xml:space="preserve">83.698</text>
<path d="M1842.0 767.9H1887.5a2 2 0 0 1 2 2V782.7a2 2 0 0 1 -2 2H1842.0Z" fill="#ff00ff"/><text x="1848.8" y="780.9" font-size="12.8" fill="#fff" font-weight="normal" text-anchor="start" stroke="#fff" stroke-width="0.55" textLength="36.3" lengthAdjust="spacingAndGlyphs" xml:space="preserve">80.036</text>
<rect x="1845" y="14" width="57.5" height="50" rx="4" fill="#fff" stroke="#f0f0f0" stroke-width="1.2"/>
<text x="1853.2" y="30.7" font-size="12.8" fill="#444444" font-weight="normal" text-anchor="start" textLength="21.5" lengthAdjust="spacingAndGlyphs" xml:space="preserve">USD</text>
<text x="1853.2" y="55.3" font-size="12.8" fill="#444444" font-weight="normal" text-anchor="start" textLength="21.5" lengthAdjust="spacingAndGlyphs" xml:space="preserve">oz t</text>
<text x="42.6" y="836.2" font-size="12.8" fill="#3a3a3a" font-weight="normal" text-anchor="start" stroke="#3a3a3a" stroke-width="0.55" textLength="27.7" lengthAdjust="spacingAndGlyphs" xml:space="preserve">2015</text>
<text x="131.5" y="836.2" font-size="12.8" fill="#444444" font-weight="normal" text-anchor="start" textLength="16.4" lengthAdjust="spacingAndGlyphs" xml:space="preserve">Jul</text>
<text x="209.5" y="836.2" font-size="12.8" fill="#3a3a3a" font-weight="normal" text-anchor="start" stroke="#3a3a3a" stroke-width="0.55" textLength="27.7" lengthAdjust="spacingAndGlyphs" xml:space="preserve">2016</text>
<text x="298.4" y="836.2" font-size="12.8" fill="#444444" font-weight="normal" text-anchor="start" textLength="16.4" lengthAdjust="spacingAndGlyphs" xml:space="preserve">Jul</text>
<text x="376.4" y="836.2" font-size="12.8" fill="#3a3a3a" font-weight="normal" text-anchor="start" stroke="#3a3a3a" stroke-width="0.55" textLength="27.7" lengthAdjust="spacingAndGlyphs" xml:space="preserve">2017</text>
<text x="465.3" y="836.2" font-size="12.8" fill="#444444" font-weight="normal" text-anchor="start" textLength="16.4" lengthAdjust="spacingAndGlyphs" xml:space="preserve">Jul</text>
<text x="543.3" y="836.2" font-size="12.8" fill="#3a3a3a" font-weight="normal" text-anchor="start" stroke="#3a3a3a" stroke-width="0.55" textLength="27.7" lengthAdjust="spacingAndGlyphs" xml:space="preserve">2018</text>
<text x="632.2" y="836.2" font-size="12.8" fill="#444444" font-weight="normal" text-anchor="start" textLength="16.4" lengthAdjust="spacingAndGlyphs" xml:space="preserve">Jul</text>
<text x="710.2" y="836.2" font-size="12.8" fill="#3a3a3a" font-weight="normal" text-anchor="start" stroke="#3a3a3a" stroke-width="0.55" textLength="27.7" lengthAdjust="spacingAndGlyphs" xml:space="preserve">2019</text>
<text x="799.1" y="836.2" font-size="12.8" fill="#444444" font-weight="normal" text-anchor="start" textLength="16.4" lengthAdjust="spacingAndGlyphs" xml:space="preserve">Jul</text>
<text x="877.1" y="836.2" font-size="12.8" fill="#3a3a3a" font-weight="normal" text-anchor="start" stroke="#3a3a3a" stroke-width="0.55" textLength="27.7" lengthAdjust="spacingAndGlyphs" xml:space="preserve">2020</text>
<text x="966.0" y="836.2" font-size="12.8" fill="#444444" font-weight="normal" text-anchor="start" textLength="16.4" lengthAdjust="spacingAndGlyphs" xml:space="preserve">Jul</text>
<text x="1044.0" y="836.2" font-size="12.8" fill="#3a3a3a" font-weight="normal" text-anchor="start" stroke="#3a3a3a" stroke-width="0.55" textLength="27.7" lengthAdjust="spacingAndGlyphs" xml:space="preserve">2021</text>
<text x="1132.9" y="836.2" font-size="12.8" fill="#444444" font-weight="normal" text-anchor="start" textLength="16.4" lengthAdjust="spacingAndGlyphs" xml:space="preserve">Jul</text>
<text x="1210.9" y="836.2" font-size="12.8" fill="#3a3a3a" font-weight="normal" text-anchor="start" stroke="#3a3a3a" stroke-width="0.55" textLength="27.7" lengthAdjust="spacingAndGlyphs" xml:space="preserve">2022</text>
<text x="1299.8" y="836.2" font-size="12.8" fill="#444444" font-weight="normal" text-anchor="start" textLength="16.4" lengthAdjust="spacingAndGlyphs" xml:space="preserve">Jul</text>
<text x="1377.8" y="836.2" font-size="12.8" fill="#3a3a3a" font-weight="normal" text-anchor="start" stroke="#3a3a3a" stroke-width="0.55" textLength="27.7" lengthAdjust="spacingAndGlyphs" xml:space="preserve">2023</text>
<text x="1466.7" y="836.2" font-size="12.8" fill="#444444" font-weight="normal" text-anchor="start" textLength="16.4" lengthAdjust="spacingAndGlyphs" xml:space="preserve">Jul</text>
<text x="1544.7" y="836.2" font-size="12.8" fill="#3a3a3a" font-weight="normal" text-anchor="start" stroke="#3a3a3a" stroke-width="0.55" textLength="27.7" lengthAdjust="spacingAndGlyphs" xml:space="preserve">2024</text>
<text x="1633.6" y="836.2" font-size="12.8" fill="#444444" font-weight="normal" text-anchor="start" textLength="16.4" lengthAdjust="spacingAndGlyphs" xml:space="preserve">Jul</text>
<text x="1711.6" y="836.2" font-size="12.8" fill="#3a3a3a" font-weight="normal" text-anchor="start" stroke="#3a3a3a" stroke-width="0.55" textLength="27.7" lengthAdjust="spacingAndGlyphs" xml:space="preserve">2025</text>
<text x="1800.5" y="836.2" font-size="12.8" fill="#444444" font-weight="normal" text-anchor="start" textLength="16.4" lengthAdjust="spacingAndGlyphs" xml:space="preserve">Jul</text>
<text x="17.5" y="29.7" font-size="12.8" fill="#444444" font-weight="normal" text-anchor="start" textLength="158.6" lengthAdjust="spacingAndGlyphs" xml:space="preserve">PREC.M.XAG=, 1M, FXS, Bid</text>
<text x="183.9" y="29.7" font-size="12.8" fill="#444444" font-weight="normal" text-anchor="start" textLength="8.8" lengthAdjust="spacingAndGlyphs" xml:space="preserve">O</text>
<text x="192.9" y="29.7" font-size="12.8" fill="#4d4dff" font-weight="normal" text-anchor="start" textLength="45.0" lengthAdjust="spacingAndGlyphs" xml:space="preserve">36.6668</text>
<text x="245.5" y="29.7" font-size="12.8" fill="#444444" font-weight="normal" text-anchor="start" textLength="8.2" lengthAdjust="spacingAndGlyphs" xml:space="preserve">H</text>
<text x="254.0" y="29.7" font-size="12.8" fill="#4d4dff" font-weight="normal" text-anchor="start" textLength="46.0" lengthAdjust="spacingAndGlyphs" xml:space="preserve">38.3600</text>
<text x="306.6" y="29.7" font-size="12.8" fill="#444444" font-weight="normal" text-anchor="start" textLength="6.4" lengthAdjust="spacingAndGlyphs" xml:space="preserve">L</text>
<text x="313.6" y="29.7" font-size="12.8" fill="#4d4dff" font-weight="normal" text-anchor="start" textLength="45.5" lengthAdjust="spacingAndGlyphs" xml:space="preserve">36.3300</text>
<text x="366.7" y="29.7" font-size="12.8" fill="#444444" font-weight="normal" text-anchor="start" textLength="7.3" lengthAdjust="spacingAndGlyphs" xml:space="preserve">C</text>
<text x="374.2" y="29.7" font-size="12.8" fill="#4d4dff" font-weight="normal" text-anchor="start" textLength="45.0" lengthAdjust="spacingAndGlyphs" xml:space="preserve">38.2205</text>
<text x="427.9" y="29.7" font-size="12.8" fill="#4d4dff" font-weight="normal" text-anchor="start" textLength="91.0" lengthAdjust="spacingAndGlyphs" xml:space="preserve">1.4805 (+4.03%)</text>
<text x="535.9" y="29.7" font-size="12.8" fill="#444444" font-weight="normal" text-anchor="start" textLength="90.7" lengthAdjust="spacingAndGlyphs" xml:space="preserve">MA (4, close, 0)</text>
<text x="633.9" y="29.7" font-size="12.8" fill="#ff33ff" font-weight="normal" text-anchor="start" textLength="45.8" lengthAdjust="spacingAndGlyphs" xml:space="preserve">36.0026</text>
<text x="697.1" y="29.7" font-size="12.8" fill="#444444" font-weight="normal" text-anchor="start" textLength="90.4" lengthAdjust="spacingAndGlyphs" xml:space="preserve">MA (9, close, 0)</text>
<text x="795.0" y="29.7" font-size="12.8" fill="#33dd33" font-weight="normal" text-anchor="start" textLength="45.7" lengthAdjust="spacingAndGlyphs" xml:space="preserve">33.5556</text>
<text x="858.2" y="29.7" font-size="12.8" fill="#444444" font-weight="normal" text-anchor="start" textLength="96.8" lengthAdjust="spacingAndGlyphs" xml:space="preserve">MA (25, close, 0)</text>
<text x="962.6" y="29.7" font-size="12.8" fill="#b02858" font-weight="normal" text-anchor="start" textLength="45.4" lengthAdjust="spacingAndGlyphs" xml:space="preserve">29.1651</text>
<text x="1025.2" y="29.7" font-size="12.8" fill="#444444" font-weight="normal" text-anchor="start" textLength="97.9" lengthAdjust="spacingAndGlyphs" xml:space="preserve">MA (50, close, 0)</text>
<text x="1130.1" y="29.7" font-size="12.8" fill="#22cccc" font-weight="normal" text-anchor="start" textLength="46.5" lengthAdjust="spacingAndGlyphs" xml:space="preserve">25.8810</text>
<text x="1193.2" y="29.7" font-size="12.8" fill="#444444" font-weight="normal" text-anchor="start" textLength="104.3" lengthAdjust="spacingAndGlyphs" xml:space="preserve">MA (100, close, 0)</text>
<text x="1305.1" y="29.7" font-size="12.8" fill="#119911" font-weight="normal" text-anchor="start" textLength="46.0" lengthAdjust="spacingAndGlyphs" xml:space="preserve">22.1848</text>
<text x="1367.7" y="29.7" font-size="12.8" fill="#444444" font-weight="normal" text-anchor="start" textLength="104.3" lengthAdjust="spacingAndGlyphs" xml:space="preserve">MA (150, close, 0)</text>
<text x="1479.0" y="29.7" font-size="12.8" fill="#ff4848" font-weight="normal" text-anchor="start" textLength="46.5" lengthAdjust="spacingAndGlyphs" xml:space="preserve">20.8310</text>
<text x="1542.1" y="29.7" font-size="12.8" fill="#444444" font-weight="normal" text-anchor="start" textLength="104.3" lengthAdjust="spacingAndGlyphs" xml:space="preserve">MA (200, close, 0)</text>
<text x="1653.5" y="29.7" font-size="12.8" fill="#c46a55" font-weight="normal" text-anchor="start" textLength="45.9" lengthAdjust="spacingAndGlyphs" xml:space="preserve">22.0618</text>
<text x="17.7" y="48.2" font-size="12.8" fill="#444444" font-weight="normal" text-anchor="start" textLength="103.7" lengthAdjust="spacingAndGlyphs" xml:space="preserve">MA (250, close, 0)</text>
<text x="129.3" y="48.2" font-size="12.8" fill="#444444" font-weight="normal" text-anchor="start" textLength="44.8" lengthAdjust="spacingAndGlyphs" xml:space="preserve">19.9987</text>
<text x="17.6" y="632.0" font-size="12.8" fill="#444444" font-weight="normal" text-anchor="start" textLength="150.4" lengthAdjust="spacingAndGlyphs" xml:space="preserve">RSI (9, Wilder, Simple, 14)</text>
<text x="176.7" y="632.0" font-size="12.8" fill="#4d4dff" font-weight="normal" text-anchor="start" textLength="45.0" lengthAdjust="spacingAndGlyphs" xml:space="preserve">75.2962</text>
<text x="229.1" y="632.0" font-size="12.8" fill="#2e8b6a" font-weight="normal" text-anchor="start" textLength="45.3" lengthAdjust="spacingAndGlyphs" xml:space="preserve">66.4199</text>
<text x="292.6" y="632.0" font-size="12.8" fill="#444444" font-weight="normal" text-anchor="start" textLength="150.5" lengthAdjust="spacingAndGlyphs" xml:space="preserve">RSI (14, Wilder, Simple, 9)</text>
<text x="451.2" y="632.0" font-size="12.8" fill="#ff33ff" font-weight="normal" text-anchor="start" textLength="45.0" lengthAdjust="spacingAndGlyphs" xml:space="preserve">70.5886</text>
<text x="17.6" y="759.8" font-size="12.8" fill="#444444" font-weight="normal" text-anchor="start" textLength="186.6" lengthAdjust="spacingAndGlyphs" xml:space="preserve">Stochastic Slow (5, 3, 3, Simple)</text>
<text x="212.3" y="759.8" font-size="12.8" fill="#4d4dff" font-weight="normal" text-anchor="start" textLength="38.5" lengthAdjust="spacingAndGlyphs" xml:space="preserve">83.698</text>
<text x="258.5" y="759.8" font-size="12.8" fill="#ff33ff" font-weight="normal" text-anchor="start" textLength="38.8" lengthAdjust="spacingAndGlyphs" xml:space="preserve">80.036</text>
<g fill="#0a14ff" fill-opacity="0.88"><path d="M1832 860.5L1833 857L1836 859L1838 857L1840 857.5L1842 859L1843.5 858L1845 859L1850 859L1851.5 857.8L1853 860L1855 857L1857 858L1858.5 857.3L1860.6 860L1860 863L1857.5 865L1855 865.6L1852 865L1850.8 868L1849.5 871L1847 872.2L1844.5 871.6L1843 869L1841.5 866L1838 865L1835 863.5L1833 862.5Z"/></g>
<g stroke="#0a14ff" stroke-opacity="0.8" stroke-width="1.25" stroke-linecap="round" fill="none"><path d="M1832.6 865.8L1834.5 864.5M1834.2 868.6L1835.6 868.8M1836 869L1836.8 871L1835.4 873.4M1838.2 872.4L1839.4 873.8L1840.6 872.6M1843.2 872.6L1843.8 874.2M1846 874.8L1848.2 873.8M1850 872.2L1851.4 873.8L1852.6 872.6M1854.6 874L1854.4 874.6M1853 867L1855 867.8L1854 869M1856.4 866L1857.6 867.6L1857.2 870L1856.2 872.4M1859.6 865.4L1860.4 866M1860 866.4L1859.4 868.2M1839.2 866L1840 868.4L1841.4 869.4M1836.4 866L1837.6 867.4"/></g>
<g fill="#fff" fill-opacity="0.75"><path d="M1845.6 861.6l1.6 1.2l-2.8 3.4l-1 -0.8zM1846.8 865.4l1 0.8l-2.6 3l-1 -0.8zM1851.4 861.4l0.9 0l0 3.4l-0.9 0zM1855.6 860.4l1 0.4l-0.4 2.2l-1 -0.4zM1836 861.6l1.6 0.2l0.6 1l-1.6 -0.2zM1840.4 859.8l1.4 -0.6l0.4 0.8l-1.4 0.6zM1839.6 864.4l1 1.2l-0.8 0.6l-1 -1.2z"/></g>
<text x="1866.8" y="871.1" font-size="15.6" fill="#0014ff" font-weight="normal" text-anchor="start" stroke="#0014ff" stroke-width="0.55" textLength="39.1" lengthAdjust="spacingAndGlyphs" xml:space="preserve">LSEG</text>
</g>
</svg></body></html>
